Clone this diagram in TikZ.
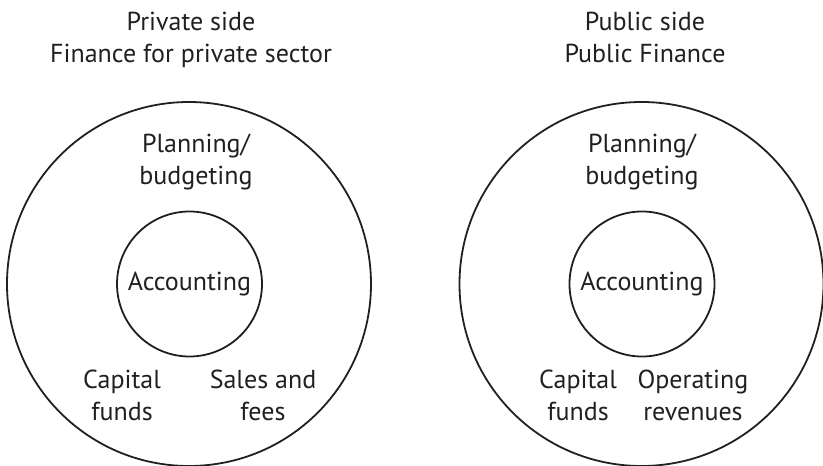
\documentclass[tikz,border=0pt]{standalone}
\usepackage{fontspec}
\setmainfont{PT Sans}
\definecolor{ink}{HTML}{231F20}
\begin{document}
\begin{tikzpicture}[x=1bp,y=-1bp,
  every node/.style={text=ink},
  lbl/.style={font=\fontsize{26bp}{32bp}\selectfont, align=center, inner sep=0pt, anchor=base},
  ring/.style={circle, draw=ink, line width=1.8bp, inner sep=0pt},
  outer/.style={ring, minimum size=364bp},
  inner/.style={ring, minimum size=145bp, font=\fontsize{26bp}{32bp}\selectfont}]
\useasboundingbox (0,0) rectangle (823,466);
% left
\node[outer] (Lout) at (189,284) {};
\node[inner] (Lin) at (189.5,284) {Accounting};
\node[lbl] (Lhead) at (191,63) {Private side\\Finance for private sector};
\node[lbl] (Lplan) at (196,185) {Planning/\\budgeting};
\node[lbl] (Lcap) at (122,420) {Capital\\funds};
\node[lbl] (Lsales) at (263,420) {Sales and\\fees};
% right
\node[outer] (Rout) at (641.5,284) {};
\node[inner] (Rin) at (642,284) {Accounting};
\node[lbl] (Rhead) at (645,63) {Public side\\Public Finance};
\node[lbl] (Rplan) at (642,185) {Planning/\\budgeting};
\node[lbl] (Rcap) at (578,420) {Capital\\funds};
\node[lbl] (Rop) at (693,420) {Operating\\revenues};
\end{tikzpicture}
\end{document}
